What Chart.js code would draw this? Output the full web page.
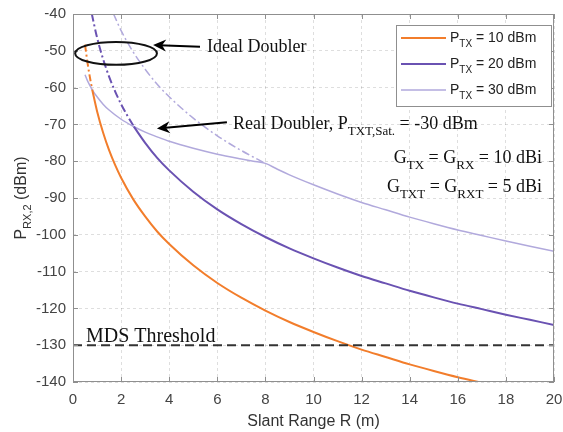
<!DOCTYPE html>
<html>
<head>
<meta charset="utf-8">
<script src="https://cdn.jsdelivr.net/npm/chart.js@4.4.1/dist/chart.umd.min.js"></script>
<style>
  html, body { margin: 0; padding: 0; background: #fff; }
  #wrap { width: 563px; height: 432px; }
</style>
</head>
<body>
<div id="wrap"><canvas id="chart" width="563" height="432"></canvas></div>
<script>
// slant range (m) and received power (dBm)
const rOrange = [0.8, 1, 1.25, 1.5, 1.75, 2, 2.5, 3, 3.5, 4, 5, 6, 7, 8, 9, 10, 11, 12, 13, 14, 15, 16, 17];
const pOrange = [-60.6, -66.4, -72.2, -77.0, -81.0, -84.5, -90.3, -95.0, -99.1, -102.5, -108.3, -113.1, -117.1, -120.6, -123.7, -126.4, -128.9, -131.2, -133.2, -135.2, -137.0, -138.7, -140.2];
const rOrangeIdeal = [0.5, 0.6, 0.7, 0.8];
const pOrangeIdeal = [-48.3, -53.1, -57.1, -60.6];

const rPurple = [2.53, 3, 3.5, 4, 5, 6, 7, 8, 9, 10, 11, 12, 13, 14, 15, 16, 17, 18, 19, 20];
const pPurple = [-70.6, -75.0, -79.1, -82.5, -88.3, -93.1, -97.1, -100.6, -103.7, -106.4, -108.9, -111.2, -113.2, -115.2, -117.0, -118.7, -120.2, -121.7, -123.1, -124.5];
const rPurpleIdeal = [0.78, 1, 1.25, 1.5, 1.75, 2, 2.25, 2.53];
const pPurpleIdeal = [-39.9, -46.4, -52.2, -57.0, -61.0, -64.5, -67.5, -70.6];

const rLight = [0.5, 0.6, 0.7, 0.8, 1, 1.25, 1.5, 2, 2.5, 3, 3.5, 4, 5, 6, 7, 7.5, 8, 8.5, 9, 10, 11, 12, 13, 14, 15, 16, 17, 18, 19, 20];
const pLight = [-56.5, -58.1, -59.4, -60.6, -62.5, -64.5, -66.1, -68.6, -70.5, -72.1, -73.4, -74.6, -76.5, -78.1, -79.4, -80.0, -80.6, -82.2, -83.7, -86.4, -88.9, -91.2, -93.2, -95.2, -97.0, -98.7, -100.2, -101.7, -103.1, -104.5];
const rLightIdeal = [1.68, 2, 2.5, 3, 3.5, 4, 5, 6, 7, 8];
const pLightIdeal = [-39.9, -44.5, -50.3, -55.0, -59.1, -62.5, -68.3, -73.1, -77.1, -80.6];

const rMds = [0, 20];
const pMds = [-130, -130];

const xTicks = [0, 2, 4, 6, 8, 10, 12, 14, 16, 18, 20];
const yTicks = [-140, -130, -120, -110, -100, -90, -80, -70, -60, -50, -40];

const legendLabels = ['10 dBm', '20 dBm', '30 dBm'];

const ORANGE = '#f27d2b';
const PURPLE = '#6a52b2';
const LIGHT = '#b1a9dc';
const SERIF = '"Liberation Serif", "Times New Roman", serif';
const SANS = '"Liberation Sans", Arial, sans-serif';

const pts = (xs, ys) => xs.map((x, i) => ({ x, y: ys[i] }));

const line = (data, color, width, dash) => ({
  data, borderColor: color, borderWidth: width, borderDash: dash || [],
  pointRadius: 0, fill: false, cubicInterpolationMode: 'monotone'
});

// text with subscript pieces: parts = [[text, isSub], ...]
function richText(ctx, parts, x, y, size, family, align) {
  const subSize = Math.round(size * 0.7);
  const widths = parts.map(([t, sub]) => {
    ctx.font = `${sub ? subSize : size}px ${family}`;
    return ctx.measureText(t).width;
  });
  const total = widths.reduce((a, b) => a + b, 0);
  let cx = align === 'right' ? x - total : align === 'center' ? x - total / 2 : x;
  ctx.textAlign = 'left';
  ctx.textBaseline = 'alphabetic';
  parts.forEach(([t, sub], i) => {
    ctx.font = `${sub ? subSize : size}px ${family}`;
    ctx.fillText(t, cx, sub ? y + size * 0.33 : y);
    cx += widths[i];
  });
}

function arrow(ctx, x1, y1, x2, y2) {
  const ang = Math.atan2(y2 - y1, x2 - x1);
  const len = 13, half = 6;
  ctx.strokeStyle = '#000';
  ctx.fillStyle = '#000';
  ctx.lineWidth = 2;
  ctx.beginPath();
  ctx.moveTo(x1, y1);
  ctx.lineTo(x2 - Math.cos(ang) * 6, y2 - Math.sin(ang) * 6);
  ctx.stroke();
  const bx = x2 - Math.cos(ang) * len, by = y2 - Math.sin(ang) * len;
  const mx = x2 - Math.cos(ang) * (len - 4), my = y2 - Math.sin(ang) * (len - 4);
  ctx.beginPath();
  ctx.moveTo(x2, y2);
  ctx.lineTo(bx - Math.sin(ang) * half, by + Math.cos(ang) * half);
  ctx.lineTo(mx, my);
  ctx.lineTo(bx + Math.sin(ang) * half, by - Math.cos(ang) * half);
  ctx.closePath();
  ctx.fill();
}

const decorations = {
  id: 'decorations',
  afterDraw(chart) {
    const { ctx, chartArea: a, scales: { x, y } } = chart;
    ctx.save();

    // axes box with inward ticks
    ctx.strokeStyle = '#8f8f8f';
    ctx.lineWidth = 1;
    ctx.setLineDash([]);
    ctx.strokeRect(a.left + 0.5, a.top + 0.5, a.right - a.left - 1, a.bottom - a.top - 1);
    ctx.beginPath();
    xTicks.forEach(v => {
      const px = Math.round(x.getPixelForValue(v)) + 0.5;
      ctx.moveTo(px, a.bottom); ctx.lineTo(px, a.bottom - 5);
      ctx.moveTo(px, a.top); ctx.lineTo(px, a.top + 5);
    });
    yTicks.forEach(v => {
      const py = Math.round(y.getPixelForValue(v)) + 0.5;
      ctx.moveTo(a.left, py); ctx.lineTo(a.left + 5, py);
      ctx.moveTo(a.right, py); ctx.lineTo(a.right - 5, py);
    });
    ctx.stroke();

    // ellipse around the ideal doubler curves
    const cx = x.getPixelForValue(1.79), cy = y.getPixelForValue(-50.7);
    const rx = x.getPixelForValue(1.70) - x.getPixelForValue(0);
    const ry = y.getPixelForValue(-40) - y.getPixelForValue(-43.1);
    ctx.strokeStyle = '#111';
    ctx.lineWidth = 2;
    ctx.beginPath();
    ctx.ellipse(cx, cy, rx, Math.abs(ry), 0, 0, Math.PI * 2);
    ctx.stroke();

    arrow(ctx, x.getPixelForValue(5.28), y.getPixelForValue(-48.9), x.getPixelForValue(3.33), y.getPixelForValue(-48.4));
    arrow(ctx, x.getPixelForValue(6.40), y.getPixelForValue(-69.4), x.getPixelForValue(3.49), y.getPixelForValue(-71.1));

    ctx.fillStyle = '#111';
    richText(ctx, [['Ideal Doubler', false]], x.getPixelForValue(5.57), y.getPixelForValue(-50.2), 18, SERIF, 'left');
    richText(ctx, [['Real Doubler, P', false], ['TXT,Sat.', true], [' = -30 dBm', false]],
      x.getPixelForValue(6.65), y.getPixelForValue(-71.25), 18, SERIF, 'left');
    richText(ctx, [['G', false], ['TX', true], [' = G', false], ['RX', true], [' = 10 dBi', false]],
      x.getPixelForValue(19.5), y.getPixelForValue(-80.5), 18, SERIF, 'right');
    richText(ctx, [['G', false], ['TXT', true], [' = G', false], ['RXT', true], [' = 5 dBi', false]],
      x.getPixelForValue(19.5), y.getPixelForValue(-88.4), 18, SERIF, 'right');
    richText(ctx, [['MDS Threshold', false]], x.getPixelForValue(0.54), y.getPixelForValue(-129.0), 20, SERIF, 'left');

    // legend
    const lx = a.right - 158, ly = a.top + 11, lw = 155, lh = 81;
    ctx.fillStyle = '#fff';
    ctx.fillRect(lx, ly, lw, lh);
    ctx.strokeStyle = '#8f8f8f';
    ctx.lineWidth = 1;
    ctx.strokeRect(lx + 0.5, ly + 0.5, lw, lh);
    const colors = [ORANGE, PURPLE, LIGHT];
    const widths = [2, 2, 1.5];
    legendLabels.forEach((lab, i) => {
      const rowY = ly + 13 + i * 26;
      ctx.strokeStyle = colors[i];
      ctx.lineWidth = widths[i];
      ctx.beginPath();
      ctx.moveTo(lx + 5, rowY); ctx.lineTo(lx + 50, rowY);
      ctx.stroke();
      ctx.fillStyle = '#222';
      richText(ctx, [['P', false], ['TX', true], [' = ' + lab, false]], lx + 54, rowY + 4, 14, SANS, 'left');
    });

    // axis titles
    ctx.fillStyle = '#333';
    richText(ctx, [['Slant Range R (m)', false]], (a.left + a.right) / 2, 426, 16, SANS, 'center');
    ctx.translate(26, (a.top + a.bottom) / 2);
    ctx.rotate(-Math.PI / 2);
    richText(ctx, [['P', false], ['RX,2', true], [' (dBm)', false]], 0, 0, 16, SANS, 'center');
    ctx.restore();
  }
};

new Chart(document.getElementById('chart'), {
  type: 'line',
  data: {
    datasets: [
      line(pts(rMds, pMds), '#333', 2, [9, 5]),
      line(pts(rOrange, pOrange), ORANGE, 2),
      line(pts(rPurple, pPurple), PURPLE, 2),
      line(pts(rLight, pLight), LIGHT, 1.5),
      line(pts(rOrangeIdeal, pOrangeIdeal), ORANGE, 2, [7, 3, 2, 3]),
      line(pts(rPurpleIdeal, pPurpleIdeal), PURPLE, 2, [8, 3, 2, 3]),
      line(pts(rLightIdeal, pLightIdeal), LIGHT, 1.5, [8, 3, 2, 3])
    ]
  },
  options: {
    responsive: false,
    animation: false,
    layout: { padding: { top: 14, right: 9, left: 0, bottom: 0 } },
    plugins: { legend: { display: false }, tooltip: { enabled: false } },
    scales: {
      x: {
        type: 'linear', min: 0, max: 20,
        afterBuildTicks: s => { s.ticks = xTicks.map(v => ({ value: v })); },
        afterFit: s => { s.height = 50; s.paddingLeft = 0; s.paddingRight = 0; },
        grid: { color: 'rgba(0,0,0,0.13)', drawTicks: false },
        border: { display: false, dash: [3, 3] },
        ticks: { padding: 9, color: '#444', font: { family: SANS, size: 15 } }
      },
      y: {
        type: 'linear', min: -140, max: -40,
        afterBuildTicks: s => { s.ticks = yTicks.map(v => ({ value: v })); },
        afterFit: s => { s.width = 73; s.paddingTop = 0; s.paddingBottom = 0; },
        grid: { color: 'rgba(0,0,0,0.13)', drawTicks: false },
        border: { display: false, dash: [3, 3] },
        ticks: { padding: 7, color: '#444', font: { family: SANS, size: 15 } }
      }
    }
  },
  plugins: [decorations]
});
</script>
</body>
</html>
